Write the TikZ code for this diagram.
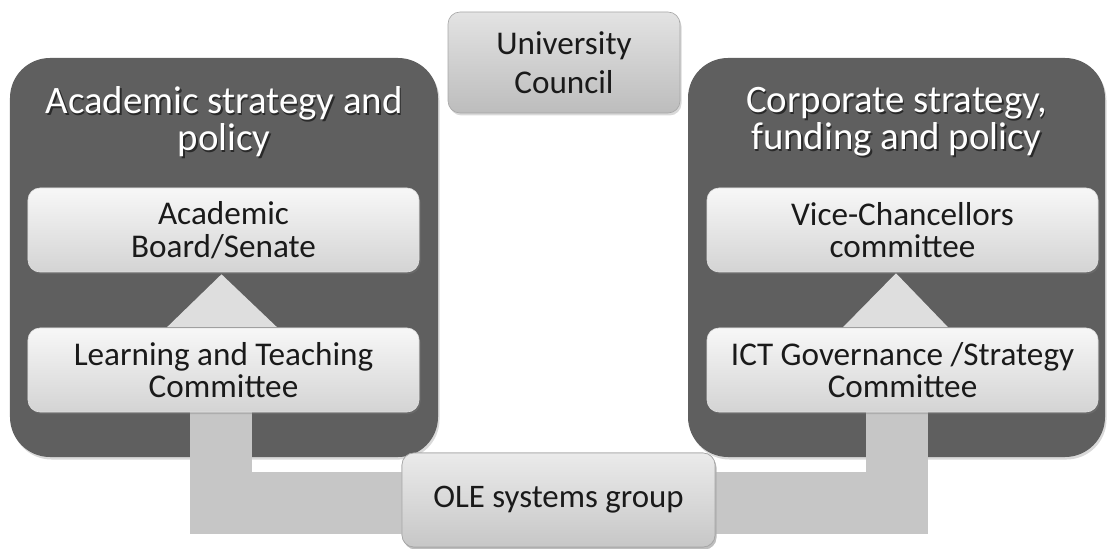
\documentclass[tikz,border=0pt]{standalone}
\usepackage{fontspec}
\setmainfont{Carlito}
\usetikzlibrary{shadows,calc}
\definecolor{darkbox}{HTML}{5F5F5F}
\definecolor{txt}{HTML}{1A1A1A}
\definecolor{conn}{HTML}{C6C6C6}
\definecolor{tri}{HTML}{DEDEDE}
\begin{document}
\begin{tikzpicture}[x=1bp,y=-1bp,
  panel/.style={rounded corners=40bp, fill=darkbox, inner sep=0pt,
    drop shadow={shadow xshift=1.5bp, shadow yshift=-2.5bp, opacity=0.3}},
  titletext/.style={text=white, align=center, inner sep=0pt,
    font=\fontsize{39}{37}\selectfont},
  titleshade/.style={text=black, text opacity=0.55, align=center, inner sep=0pt,
    font=\fontsize{39}{37}\selectfont},
  innerbox/.style={rounded corners=12bp, top color=black!3, bottom color=black!17,
    draw=black!12, line width=0.6bp, text=txt, align=center,
    minimum width=391bp, minimum height=84bp, inner sep=0pt,
    font=\fontsize{33.3}{32.5}\selectfont,
    drop shadow={shadow xshift=1.5bp, shadow yshift=-2bp, opacity=0.35}},
  greybox/.style={rounded corners=12bp, top color=black!11, bottom color=black!26,
    draw=black!35, line width=0.6bp, text=txt, align=center, inner sep=0pt,
    drop shadow={shadow xshift=1.5bp, shadow yshift=-2.5bp, opacity=0.3}},
  connector/.style={draw=conn, line width=62bp, line join=miter, line cap=butt},
  arrowtri/.style={fill=tri}
]
\path[use as bounding box] (0,0) rectangle (1107,549);

% panels
\node[panel, minimum width=428bp, minimum height=399bp] (lp) at (224,257.5) {};
\node[panel, minimum width=417bp, minimum height=399bp] (rp) at (896.5,257.5) {};

% titles
\node[titleshade] (lts) at (225.5,123.5) {Academic strategy and\\policy};
\node[titletext] (lt) at (224,122) {Academic strategy and\\policy};
\node[titleshade] (rts) at (898,123.5) {Corporate strategy,\\funding and policy};
\node[titletext] (rt) at (896.5,122) {Corporate strategy,\\funding and policy};

% inner box positions
\coordinate (absc) at (223.5,230);
\coordinate (ltcc) at (223.5,370);
\coordinate (vcc) at (902.5,230);
\coordinate (ictc) at (902.5,370);

% OLE box (placed first so connectors can reach it)
\node[greybox, minimum width=313bp, minimum height=94bp, font=\fontsize{33}{33}\selectfont,
  top color=black!8, bottom color=black!22] (ole) at (558.5,500) {};
\path (ltcc) ++(0,42) coordinate (ltcs);
\path (ictc) ++(-6,42) coordinate (ictcs);
\draw[connector] ($(ltcs)+(-2.5,0)$) |- ([yshift=-2.5bp]ole.west);
\draw[connector] (ictcs) |- ([yshift=-2.5bp]ole.east);
% OLE drawn on top of the connectors
\node[greybox, minimum width=313bp, minimum height=94bp, font=\fontsize{33}{33}\selectfont,
  top color=black!8, bottom color=black!22] (ole2) at (ole) {OLE systems group};

% inner boxes
\node[innerbox] (abs) at (absc) {Academic\\Board/Senate};
\node[innerbox] (ltc) at (ltcc) {Learning and Teaching\\Committee};
\node[innerbox] (vc) at (vcc) {Vice-Chancellors\\committee};
\node[innerbox] (ict) at (ictc) {ICT Governance /Strategy\\Committee};

% triangles
\fill[arrowtri] ($(abs.south)+(-2,2)$) -- ($(ltc.north)+(-56.5,-0.5)$) -- ($(ltc.north)+(53.5,-0.5)$) -- cycle;
\fill[arrowtri] ($(vc.south)+(-6.5,1)$) -- ($(ict.north)+(-59.5,-0.5)$) -- ($(ict.north)+(45.5,-0.5)$) -- cycle;

% University Council
\node[greybox, minimum width=232bp, minimum height=101bp, font=\fontsize{33.3}{39}\selectfont] (uc) at (564,62.5) {University\\Council};
\end{tikzpicture}
\end{document}
